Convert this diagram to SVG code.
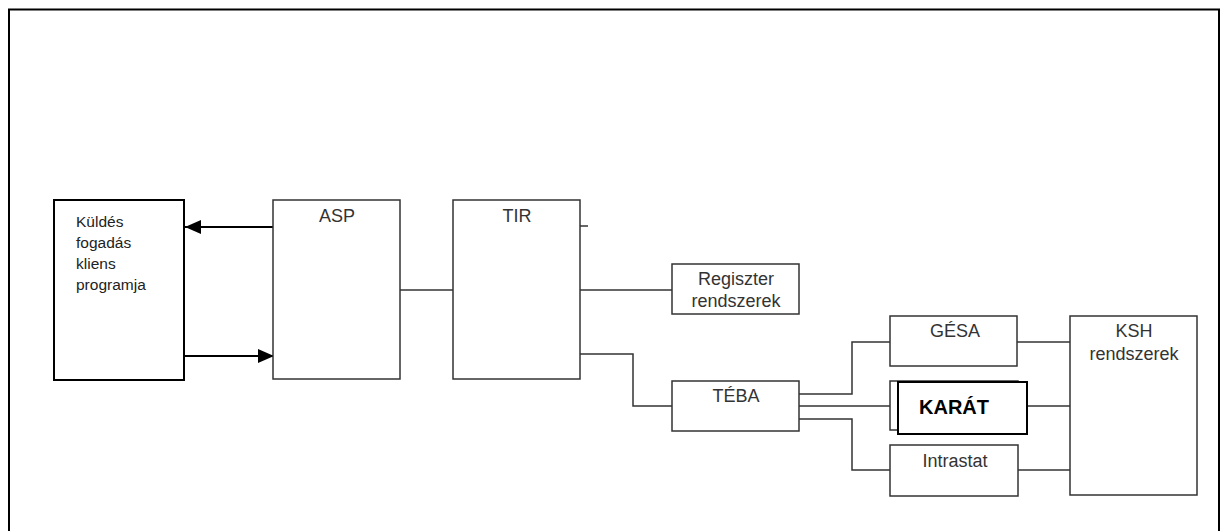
<svg xmlns="http://www.w3.org/2000/svg" width="1220" height="531" viewBox="0 0 1220 531">
<style>
.box{fill:#fff;stroke:#333;stroke-width:1.5}
.thick{fill:#fff;stroke:#000;stroke-width:2}
.ln{fill:none;stroke:#333;stroke-width:1.5}
.arr{fill:none;stroke:#000;stroke-width:2.2}
.t{font-family:"Liberation Sans",Arial,sans-serif;font-size:18px;fill:#333;text-anchor:middle}
.tl{font-family:"Liberation Sans",Arial,sans-serif;font-size:15.5px;fill:#222}
.kb{font-family:"Liberation Sans",Arial,sans-serif;font-size:20px;font-weight:bold;fill:#000}
</style>
<defs>
<marker id="ah" markerWidth="16" markerHeight="14" refX="16" refY="7" orient="auto" markerUnits="userSpaceOnUse">
<path d="M0,0 L16,7 L0,14 Z" fill="#000"/>
</marker>
</defs>
<rect width="1220" height="531" fill="#fff"/>
<path d="M9,540 V9.5 H1219 V540" fill="none" stroke="#000" stroke-width="2"/>
<g id="connectors">
<line class="arr" x1="273" y1="227" x2="185" y2="227" marker-end="url(#ah)"/>
<line class="arr" x1="185" y1="356" x2="274" y2="356" marker-end="url(#ah)"/>
<line class="ln" x1="400" y1="290" x2="453" y2="290"/>
<line class="ln" x1="580" y1="226" x2="588" y2="226"/>
<line class="ln" x1="580" y1="290" x2="672" y2="290"/>
<polyline class="ln" points="580,354 633,354 633,406 672,406"/>
<polyline class="ln" points="799,394 852,394 852,342 890,342"/>
<line class="ln" x1="799" y1="406" x2="890" y2="406"/>
<polyline class="ln" points="799,419 852,419 852,470 890,470"/>
<line class="ln" x1="1017" y1="342" x2="1070" y2="342"/>
<line class="ln" x1="1027" y1="406" x2="1070" y2="406"/>
<line class="ln" x1="1018" y1="470" x2="1070" y2="470"/>
</g>
<g id="kuldes">
<rect class="thick" x="54" y="200" width="130" height="180"/>
<text class="tl" x="76" y="227">Küldés</text>
<text class="tl" x="76" y="248">fogadás</text>
<text class="tl" x="76" y="269">kliens</text>
<text class="tl" x="76" y="290">programja</text>
</g>
<g id="asp">
<rect class="box" x="273" y="200" width="127" height="179"/>
<text class="t" x="337" y="222">ASP</text>
</g>
<g id="tir">
<rect class="box" x="453" y="200" width="127" height="179"/>
<text class="t" x="517" y="222">TIR</text>
</g>
<g id="regiszter">
<rect class="box" x="672" y="264" width="127" height="50"/>
<text class="t" x="736" y="285">Regiszter</text>
<text class="t" x="736" y="307">rendszerek</text>
</g>
<g id="teba">
<rect class="box" x="672" y="381" width="127" height="50"/>
<text class="t" x="736" y="402">TÉBA</text>
</g>
<g id="gesa">
<rect class="box" x="890" y="316" width="127" height="50"/>
<text class="t" x="955" y="337">GÉSA</text>
</g>
<g id="karat">
<rect class="box" x="890" y="381" width="128" height="49"/>
<rect class="thick" x="898" y="382" width="129" height="52"/>
<text class="kb" x="919" y="414">KARÁT</text>
</g>
<g id="intrastat">
<rect class="box" x="890" y="445" width="128" height="51"/>
<text class="t" x="955" y="467">Intrastat</text>
</g>
<g id="ksh">
<rect class="box" x="1070" y="316" width="127" height="179"/>
<text class="t" x="1134" y="337">KSH</text>
<text class="t" x="1134" y="360">rendszerek</text>
</g>
</svg>
